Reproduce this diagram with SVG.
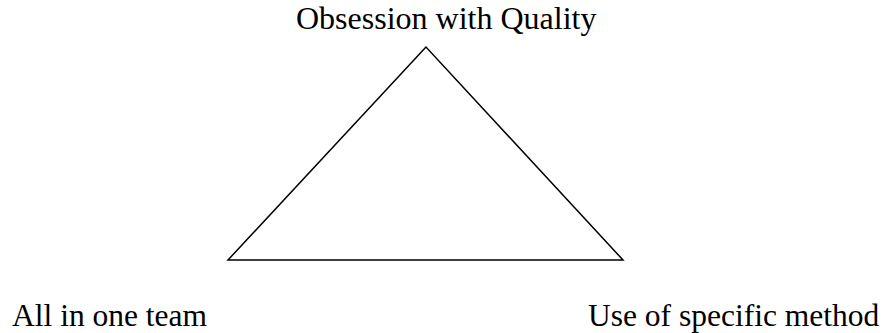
<svg xmlns="http://www.w3.org/2000/svg" width="884" height="333" viewBox="0 0 884 333">
<style>
.lbl{font-family:"Liberation Serif","Times New Roman",serif;font-size:32px;fill:#000}
.small{font-size:31.5px}
.edge{fill:none;stroke:#000;stroke-width:1.5}
</style>
<rect width="884" height="333" fill="#fff"/>
<g id="connectors">
<polygon class="edge" points="426,47 228,260 623,260"/>
</g>
<g id="node-quality"><text class="lbl" x="296" y="29">Obsession with Quality</text></g>
<g id="node-team"><text class="lbl small" x="12" y="326">All in one team</text></g>
<g id="node-method"><text class="lbl small" x="588" y="326">Use of specific method</text></g>
</svg>
